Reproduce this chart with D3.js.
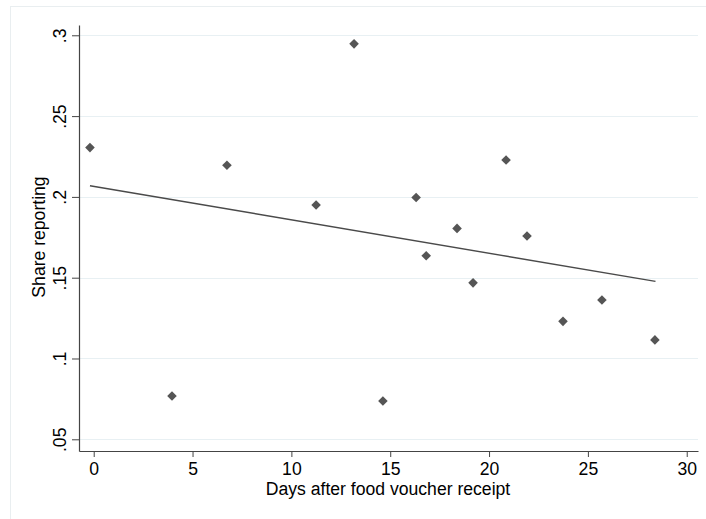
<!DOCTYPE html>
<html>
<head>
<meta charset="utf-8">
<script src="https://cdn.jsdelivr.net/npm/d3@7"></script>
<style>
  html, body { margin: 0; padding: 0; background: #fff; }
  svg { display: block; }
  text { font-family: "Liberation Sans", Arial, Helvetica, sans-serif; fill: #000; }
</style>
</head>
<body>
<svg id="chart" width="706" height="519"></svg>
<script>
// ---- data ----
const days  = [-0.19, 3.96, 6.74, 11.25, 13.17, 14.63, 16.31, 16.82, 18.38, 19.19, 20.86, 21.92, 23.74, 25.71, 28.39];
const share = [0.2305, 0.0768, 0.2196, 0.1950, 0.2947, 0.0737, 0.1996, 0.1636, 0.1805, 0.1468, 0.2228, 0.1758, 0.1230, 0.1362, 0.1115];
const fitX = [-0.19, 28.42];
const fitY = [0.2069, 0.1477];
const xTicks = [0, 5, 10, 15, 20, 25, 30];
const yTicks = [0.05, 0.1, 0.15, 0.2, 0.25, 0.3];
const xTitle = "Days after food voucher receipt";
const yTitle = "Share reporting";

// ---- layout ----
const svg = d3.select("#chart");
const pL = 79, pR = 698, pT = 25, pB = 451;
const fs = 17.6;

const x = d3.scaleLinear().domain([-0.744, 30.57]).range([pL, pR]);
const y = d3.scaleLinear().domain([0.04276, 0.30637]).range([pB, pT]);

// outer frame
svg.append("rect")
  .attr("x", 10.5).attr("y", 6.5).attr("width", 720).attr("height", 530)
  .attr("fill", "none").attr("stroke", "#e9eef0").attr("stroke-width", 1);

// gridlines
svg.append("g").selectAll("line").data(yTicks).join("line")
  .attr("x1", pL).attr("x2", pR)
  .attr("y1", d => Math.round(y(d)) + 0.5).attr("y2", d => Math.round(y(d)) + 0.5)
  .attr("stroke", "#e8f0f3").attr("stroke-width", 1);

const fmtY = d => String(+d.toFixed(2)).replace(/^0\./, ".");

// x axis
const gx = svg.append("g").attr("transform", `translate(0,${pB})`)
  .call(d3.axisBottom(x).tickValues(xTicks).tickSize(6).tickSizeOuter(0).tickPadding(6));
gx.select(".domain").attr("stroke", "#444").attr("stroke-width", 1.2);
gx.selectAll(".tick line").attr("stroke", "#444");
gx.selectAll(".tick text").attr("font-size", fs).attr("fill", "#000");

// y axis
const gy = svg.append("g").attr("transform", `translate(${pL},0)`)
  .call(d3.axisLeft(y).tickValues(yTicks).tickSize(7).tickSizeOuter(0).tickFormat(fmtY));
gy.select(".domain").attr("stroke", "#444").attr("stroke-width", 1.2);
gy.selectAll(".tick line").attr("stroke", "#444");
gy.selectAll(".tick text")
  .attr("font-size", fs).attr("fill", "#000")
  .attr("x", null).attr("dy", null)
  .attr("text-anchor", "middle")
  .attr("transform", "translate(-13,0) rotate(-90)");

// fit line
svg.append("line")
  .attr("x1", x(fitX[0])).attr("y1", y(fitY[0]))
  .attr("x2", x(fitX[1])).attr("y2", y(fitY[1]))
  .attr("stroke", "#4a4a4a").attr("stroke-width", 1.4);

// points
const sym = d3.symbol().type(d3.symbolSquare).size(46);
svg.append("g").selectAll("path").data(days.map((d, i) => [d, share[i]])).join("path")
  .attr("d", sym)
  .attr("transform", d => `translate(${x(d[0])},${y(d[1])}) rotate(45)`)
  .attr("fill", "#555555");

// titles
svg.append("text")
  .attr("x", 388).attr("y", 495)
  .attr("text-anchor", "middle").attr("font-size", fs)
  .text(xTitle);

svg.append("text")
  .attr("transform", `translate(45,237) rotate(-90)`)
  .attr("text-anchor", "middle").attr("font-size", fs)
  .text(yTitle);
</script>
</body>
</html>
